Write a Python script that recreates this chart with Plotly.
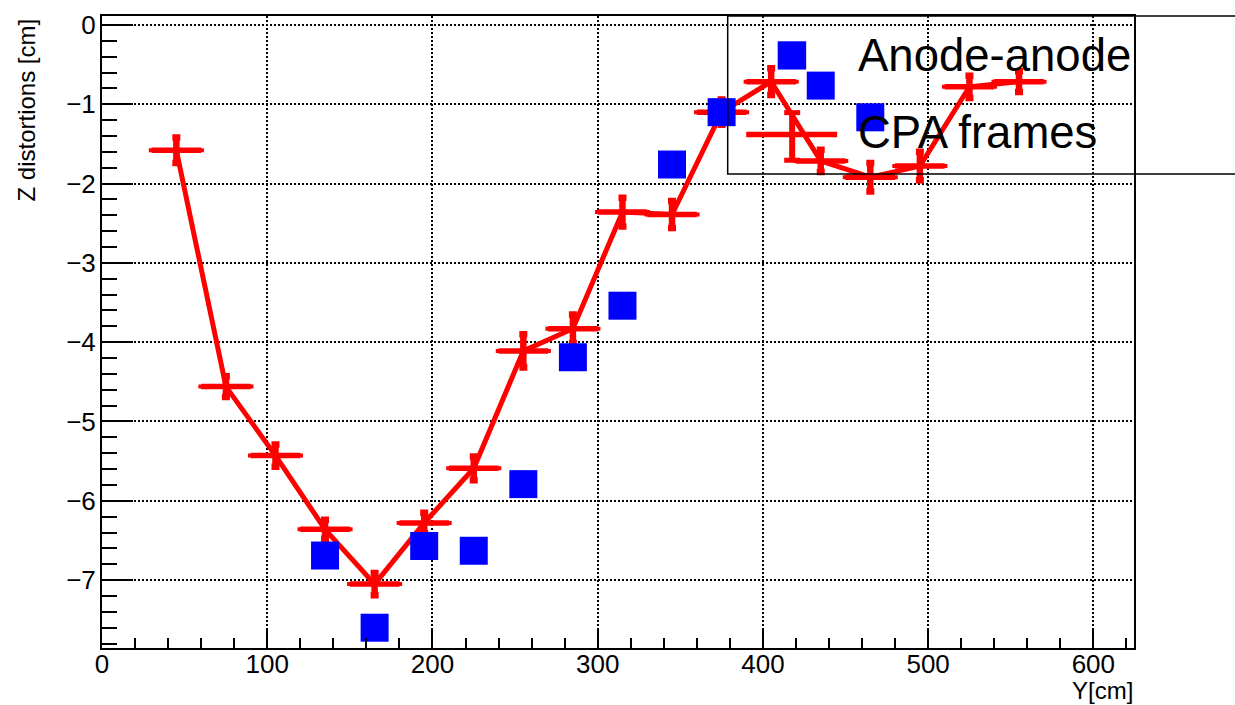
import plotly.graph_objects as go

# CPA frame measurements (red, with error bars)
cpa_y_pos = [45, 75, 105, 135, 165, 195, 225, 255, 285, 315, 345, 375, 405, 435, 465, 495, 525, 555]
cpa_dz = [-1.58, -4.56, -5.43, -6.36, -7.05, -6.28, -5.59, -4.11, -3.83, -2.36, -2.39, -1.10,
          -0.715, -1.715, -1.92, -1.78, -0.78, -0.715]
cpa_dz_err = [0.16, 0.13, 0.14, 0.12, 0.14, 0.13, 0.15, 0.21, 0.18, 0.18, 0.17, 0.16,
              0.17, 0.14, 0.18, 0.18, 0.14, 0.13]
cpa_y_err = [15] * len(cpa_y_pos)

# Anode-anode measurements (blue squares)
anode_y_pos = [135, 165, 195, 225, 255, 285, 315, 345, 375, 435, 465]
anode_dz = [-6.69, -7.60, -6.57, -6.63, -5.79, -4.19, -3.54, -1.76, -1.10, -0.765, -1.165]

x_range = [0, 624.6]
y_range = [-7.856, 0.1125]

RED = "#ff0000"
BLUE = "#0000ff"
FONT = "Liberation Sans, Arial, Helvetica, sans-serif"

fig = go.Figure()

fig.add_trace(go.Scatter(
    x=cpa_y_pos, y=cpa_dz, mode="lines", name="CPA frames",
    line=dict(color=RED, width=5),
    error_x=dict(type="data", array=cpa_y_err, color=RED, thickness=5.5, width=2),
    error_y=dict(type="data", array=cpa_dz_err, color=RED, thickness=6.5, width=4),
    showlegend=False,
))

fig.add_trace(go.Scatter(
    x=anode_y_pos, y=anode_dz, mode="markers", name="Anode-anode",
    marker=dict(symbol="square", size=28, color=BLUE, line=dict(width=0)),
    showlegend=False,
))

axis_common = dict(
    showline=True, linecolor="black", linewidth=2, mirror=True,
    ticks="inside", tickcolor="black", tickwidth=2,
    showgrid=True, gridcolor="#000000", gridwidth=1.5, griddash="1.5px,2.5px",
    zeroline=False,
    tickfont=dict(family=FONT, size=26, color="black"),
)

fig.update_xaxes(
    range=x_range, dtick=100, tick0=0, ticklen=19,
    minor=dict(dtick=20, ticklen=10, ticks="inside", tickcolor="black", tickwidth=2, showgrid=False),
    ticklabelstandoff=-8,
    **axis_common,
)
fig.update_yaxes(
    range=y_range, dtick=1, tick0=0, ticklen=31,
    minor=dict(dtick=0.2, ticklen=15, ticks="inside", tickcolor="black", tickwidth=2, showgrid=False),
    ticklabelstandoff=-1,
    **axis_common,
)

W, H = 1235, 705
ML, MR, MT, MB = 101.5, 101, 10.5, 57
PW, PH = W - ML - MR, H - MT - MB


def px(xp):
    return (xp - ML) / PW


def py(yp):
    return (H - MB - yp) / PH


shapes = [
    # legend frame (runs past the right edge of the canvas)
    dict(type="rect", xref="paper", yref="paper", x0=px(727.5), x1=px(1260), y0=py(170), y1=py(10.5),
         line=dict(color="black", width=1.5), fillcolor="rgba(0,0,0,0)", layer="above"),
    # CPA frames legend glyph: line plus error bar
    dict(type="line", xref="paper", yref="paper", x0=px(746), x1=px(837), y0=py(130), y1=py(130),
         line=dict(color=RED, width=5.5), layer="above"),
    dict(type="line", xref="paper", yref="paper", x0=px(792), x1=px(792), y0=py(107), y1=py(157),
         line=dict(color=RED, width=6), layer="above"),
    dict(type="line", xref="paper", yref="paper", x0=px(784), x1=px(800), y0=py(108), y1=py(108),
         line=dict(color=RED, width=5), layer="above"),
    dict(type="line", xref="paper", yref="paper", x0=px(784), x1=px(800), y0=py(156), y1=py(156),
         line=dict(color=RED, width=5), layer="above"),
    # Anode-anode legend glyph: blue square
    dict(type="rect", xref="paper", yref="paper", x0=px(777.5), x1=px(806), y0=py(64.5), y1=py(36),
         line=dict(width=0), fillcolor=BLUE, layer="above"),
]

annotations = [
    dict(text="Anode-anode", xref="paper", yref="paper", x=px(856), y=py(50), xanchor="left", yanchor="middle",
         showarrow=False, font=dict(family=FONT, size=45.5, color="black")),
    dict(text="CPA frames", xref="paper", yref="paper", x=px(856), y=py(128), xanchor="left", yanchor="middle",
         showarrow=False, font=dict(family=FONT, size=45.5, color="black")),
    dict(text="Y[cm]", xref="paper", yref="paper", x=1.0, y=py(705), xanchor="right", yanchor="bottom",
         borderpad=0, showarrow=False, font=dict(family=FONT, size=24, color="black")),
    dict(text="Z distortions [cm]", xref="paper", yref="paper", x=px(26), y=py(11), xanchor="center",
         yanchor="top", textangle=-90, showarrow=False, font=dict(family=FONT, size=24, color="black")),
]

fig.update_layout(
    width=W, height=H,
    margin=dict(l=ML, r=MR, t=MT, b=MB, pad=0),
    paper_bgcolor="white", plot_bgcolor="white",
    showlegend=False,
    shapes=shapes, annotations=annotations,
)

fig.write_html("out.html", config={"displayModeBar": False})
